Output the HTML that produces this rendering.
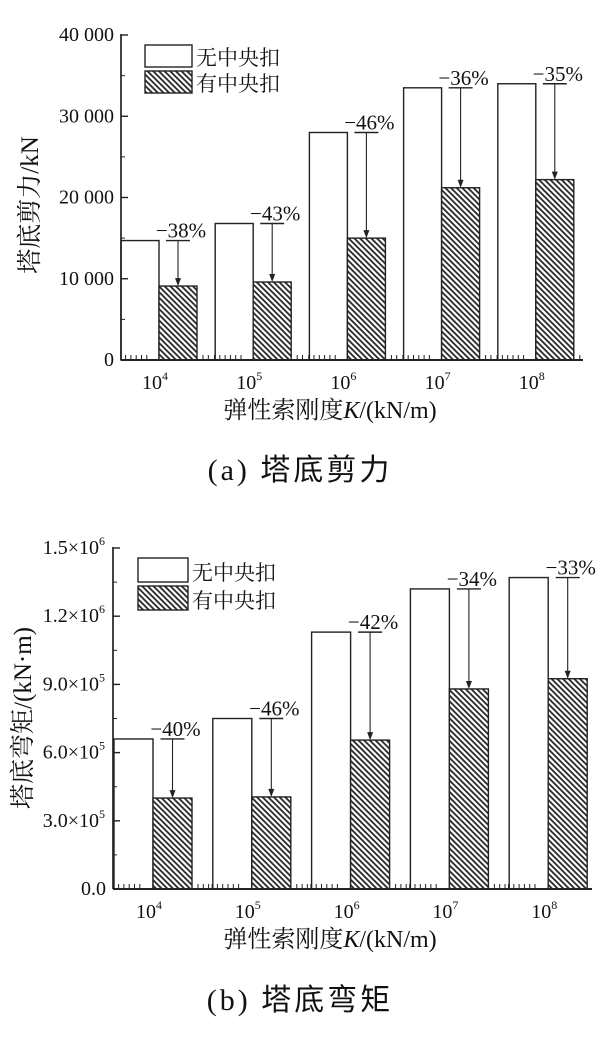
<!DOCTYPE html>
<html><head><meta charset="utf-8">
<style>
html,body{margin:0;padding:0;background:#fff;}
svg{display:block;}
text{font-family:"Liberation Serif","Noto Serif CJK SC",serif;fill:#111;}
.cap{font-family:"Liberation Serif","Noto Sans CJK SC",sans-serif;}
</style></head>
<body>
<svg id="svg" width="600" height="1041" viewBox="0 0 600 1041">
<defs>
<pattern id="hatch" patternUnits="userSpaceOnUse" width="4" height="4" patternTransform="rotate(45)">
<rect width="4" height="4" fill="#fff"/>
<line x1="0" y1="2" x2="4" y2="2" stroke="#1a1a1a" stroke-width="1.7"/>
</pattern>
</defs>
<text class="cap" x="300" y="480" font-size="30" text-anchor="middle" letter-spacing="3">(a) 塔底剪力</text>
<text class="cap" x="300" y="1010" font-size="30" text-anchor="middle" letter-spacing="3">(b) 塔底弯矩</text>
</svg>
<script>
const categories = ["4","5","6","7","8"];
const shearNo = [14700, 16800, 28000, 33500, 34000];
const shearYes = [9100, 9600, 15000, 21200, 22200];
const shearPct = ["−38%","−43%","−46%","−36%","−35%"];
const shearTicks = [0, 10000, 20000, 30000, 40000];
const shearTickLabels = ["0","10 000","20 000","30 000","40 000"];
const momNo = [660000, 750000, 1130000, 1320000, 1370000];
const momYes = [400000, 405000, 655000, 880000, 925000];
const momPct = ["−40%","−46%","−42%","−34%","−33%"];
const momTicks = [0, 300000, 600000, 900000, 1200000, 1500000];
const momTickLabels = ["0.0","3.0×10","6.0×10","9.0×10","1.2×10","1.5×10"];
const momTickExp = ["","5","5","5","6","6"];

const NS = "http://www.w3.org/2000/svg";
const svg = document.getElementById('svg');
function mk(tag, attrs, parent){const e=document.createElementNS(NS,tag);for(const k in attrs)e.setAttribute(k,attrs[k]);(parent||svg).appendChild(e);return e;}

function chart(cfg){
  const g = mk('g',{});
  
  
  const y = v => cfg.y0 - (v/cfg.max)*(cfg.y0-cfg.yTop);
  const cx = i => cfg.c0 + i*cfg.step;
  const bw = cfg.bw;
  categories.forEach((c,i)=>{
    const w = mk('rect',{x:Math.max(cx(i)-bw,cfg.x0),y:y(cfg.no[i]),width:cx(i)-Math.max(cx(i)-bw,cfg.x0),height:cfg.y0-y(cfg.no[i]),fill:'#fff',stroke:'#222','stroke-width':1.4},g);
    
    
    const h = mk('rect',{x:cx(i),y:y(cfg.yes[i]),width:bw,height:cfg.y0-y(cfg.yes[i]),fill:'url(#hatch)',stroke:'#222','stroke-width':1.4},g);
    
    
    const ax = cx(i)+bw*0.5;
    const ty = y(cfg.no[i]);
    mk('line',{x1:ax-12,x2:ax+12,y1:ty,y2:ty,stroke:'#222','stroke-width':1.4},g);
    mk('line',{x1:ax,x2:ax,y1:ty,y2:y(cfg.yes[i])-6,stroke:'#222','stroke-width':1.1},g);
    mk('path',{d:`M${ax-3},${y(cfg.yes[i])-8} L${ax+3},${y(cfg.yes[i])-8} L${ax},${y(cfg.yes[i])} Z`,fill:'#222'},g);
    const t = mk('text',{x:ax+3,y:ty-3,'font-size':21,'text-anchor':'middle'},g);
    t.textContent = cfg.pct[i];
    
    
    const xl = mk('text',{x:cx(i)-4,y:cfg.y0+29,'font-size':20,'text-anchor':'middle'},g);
    xl.textContent='10';
    const sup = mk('tspan',{'font-size':12,dy:-9},xl); sup.textContent=c;
    
    
    for(let k=1;k<=6;k++){const tx=cx(i)-bw-6+k*5.3; if(tx>cfg.x0+2) mk('line',{x1:tx,x2:tx,y1:cfg.y0,y2:cfg.y0-5,stroke:'#222','stroke-width':1},g);}
    for(let k=0;k<6;k++){const tx=cx(i)+bw+6+k*5.3; if(tx<Math.min(cx(i)+cfg.step-bw-4,cfg.xEnd-2)) mk('line',{x1:tx,x2:tx,y1:cfg.y0,y2:cfg.y0-5,stroke:'#222','stroke-width':1},g);}
  });
  mk('line',{x1:cfg.x0,x2:cfg.x0,y1:cfg.yTop-1,y2:cfg.y0,stroke:'#222','stroke-width':1.7},g);
  mk('line',{x1:cfg.x0,x2:cfg.xEnd,y1:cfg.y0,y2:cfg.y0,stroke:'#222','stroke-width':2},g);
  cfg.ticks.forEach((v,k)=>{
    mk('line',{x1:cfg.x0,x2:cfg.x0+7,y1:y(v),y2:y(v),stroke:'#222','stroke-width':1.4},g);
    if(k<cfg.ticks.length-1){const m=(v+cfg.ticks[k+1])/2;mk('line',{x1:cfg.x0,x2:cfg.x0+4,y1:y(m),y2:y(m),stroke:'#222','stroke-width':1},g);}
    const t = mk('text',{x:cfg.x0-(cfg.exp&&cfg.exp[k]?14:7),y:y(v)+6,'font-size':20,'text-anchor':'end'},g);
    t.textContent=cfg.labels[k];
    
    
    if(cfg.exp&&cfg.exp[k]){const s=mk('text',{x:cfg.x0-14,y:y(v)-3,'font-size':12},g);s.textContent=cfg.exp[k];}
  });
  const l = cfg.leg;
  mk('rect',{x:l.x,y:l.y,width:l.w,height:l.h,fill:'#fff',stroke:'#222','stroke-width':1.4},g);
  mk('rect',{x:l.x,y:l.y+l.h+4,width:l.w,height:l.h,fill:'url(#hatch)',stroke:'#222','stroke-width':1.4},g);
  const t1=mk('text',{x:l.x+l.w+4,y:l.y+l.h-2,'font-size':21},g);t1.textContent='无中央扣';
  
  
  const t2=mk('text',{x:l.x+l.w+4,y:l.y+2*l.h+2,'font-size':21},g);t2.textContent='有中央扣';
  
  
  const xt=mk('text',{x:cfg.xtX,y:cfg.y0+58,'font-size':24,'text-anchor':'middle'},g);
  xt.innerHTML='弹性索刚度<tspan font-style="italic">K</tspan>/(kN/m)';
  
  
  const yt=mk('text',{x:0,y:0,'font-size':25,'text-anchor':'middle',transform:`translate(${cfg.ytX},${cfg.ytY}) rotate(-90)`},g);
  yt.textContent=cfg.ytitle;
  
  
}
chart({name:'shear-chart',x0:121,xEnd:583,y0:360,yTop:35,max:40000,c0:159,step:94.2,bw:38,
  no:shearNo,yes:shearYes,pct:shearPct,ticks:shearTicks,labels:shearTickLabels,
  leg:{x:145,y:45,w:47,h:22},xtX:330,ytX:38,ytY:205,ytitle:'塔底剪力/kN'});
chart({name:'moment-chart',x0:113,xEnd:592,y0:889,yTop:548,max:1500000,c0:153,step:98.8,bw:39,
  no:momNo,yes:momYes,pct:momPct,ticks:momTicks,labels:momTickLabels,exp:momTickExp,
  leg:{x:138,y:558,w:50,h:24},xtX:330,ytX:31,ytY:718,ytitle:'塔底弯矩/(kN·m)'});
</script>
</body></html>
